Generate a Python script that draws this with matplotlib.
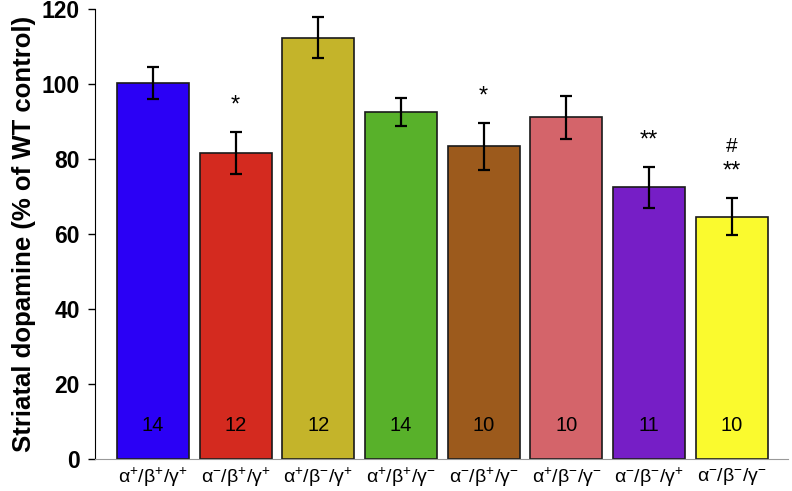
import numpy as np
import matplotlib
matplotlib.use("Agg")
import matplotlib.pyplot as plt

plt.rcParams['font.family'] = ['Liberation Sans', 'DejaVu Sans']
plt.rcParams['mathtext.fontset'] = 'custom'
plt.rcParams['mathtext.rm'] = 'Liberation Sans'
plt.rcParams['mathtext.it'] = 'Liberation Sans'

# data
genotypes = [r'$\mathregular{\alpha^{+}/\beta^{+}/\gamma^{+}}$',
             r'$\mathregular{\alpha^{-}/\beta^{+}/\gamma^{+}}$',
             r'$\mathregular{\alpha^{+}/\beta^{-}/\gamma^{+}}$',
             r'$\mathregular{\alpha^{+}/\beta^{+}/\gamma^{-}}$',
             r'$\mathregular{\alpha^{-}/\beta^{+}/\gamma^{-}}$',
             r'$\mathregular{\alpha^{+}/\beta^{-}/\gamma^{-}}$',
             r'$\mathregular{\alpha^{-}/\beta^{-}/\gamma^{+}}$',
             r'$\mathregular{\alpha^{-}/\beta^{-}/\gamma^{-}}$']
dopamine = [100.2, 81.5, 112.3, 92.5, 83.4, 91.1, 72.4, 64.6]
sem = [4.3, 5.6, 5.5, 3.8, 6.3, 5.7, 5.5, 5.0]
n_animals = [14, 12, 12, 14, 10, 10, 11, 10]
stars = ['', '*', '', '', '*', '', '**', '**']
hashes = ['', '', '', '', '', '', '', '#']

colors = ['#2B00F5', '#D42A1F', '#C4B42A', '#58B12A',
          '#9C5A1C', '#D4646A', '#761EC6', '#FAFA2E']

fig = plt.figure(figsize=(7.92, 4.91), dpi=100)
ax = fig.add_axes([0.12, 0.065, 0.875, 0.917])

x = np.arange(len(dopamine))
ax.bar(x, dopamine, width=0.87, color=colors, edgecolor='#1a1a1a', linewidth=1.2, zorder=2)
ax.errorbar(x, dopamine, yerr=sem, fmt='none', ecolor='black', elinewidth=1.6,
            capsize=4, capthick=1.6, zorder=3)

for i in range(len(x)):
    ax.text(x[i], 9, str(n_animals[i]), ha='center', va='center', fontsize=14.5, zorder=4)
    if stars[i]:
        ax.text(x[i], dopamine[i] + sem[i] + 7.0, stars[i], ha='center', va='center', fontsize=17)
    if hashes[i]:
        ax.text(x[i], dopamine[i] + sem[i] + 13.8, hashes[i], ha='center', va='center', fontsize=15)

ax.set_xlim(-0.7, 7.68)
ax.set_ylim(0, 120)
ax.set_yticks(np.arange(0, 121, 20))
ax.set_xticks(x)
ax.set_xticklabels(genotypes, fontsize=14)
ax.tick_params(axis='x', length=0, pad=5)
ax.tick_params(axis='y', length=5, width=1, direction='out', labelsize=16.5, pad=6)
for lab in ax.get_yticklabels():
    lab.set_fontweight('bold')

ax.spines['top'].set_visible(False)
ax.spines['right'].set_visible(False)
ax.spines['left'].set_color('black')
ax.spines['bottom'].set_color('#999999')
ax.set_ylabel('Striatal dopamine (% of WT control)', fontsize=18.5, fontweight='bold', labelpad=4)

plt.savefig('out.png', dpi=100)
